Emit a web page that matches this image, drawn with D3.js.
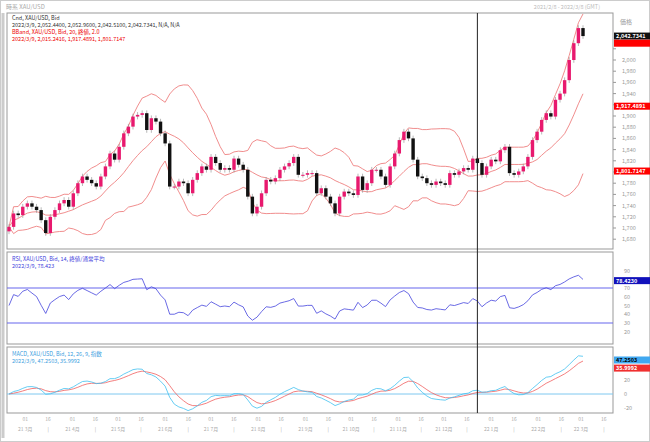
<!DOCTYPE html>
<html><head><meta charset="utf-8">
<script src="https://cdn.jsdelivr.net/npm/d3@7/dist/d3.min.js"></script>
<style>body{margin:0;background:#fff;font-family:"Noto Sans CJK JP","Noto Sans",sans-serif}</style>
</head><body><svg id="c" width="650" height="442"></svg>
<script>
const closes=[1702,1726,1723,1738,1744,1738,1732,1714,1691,1720,1732,1744,1750,1738,1762,1780,1792,1786,1780,1774,1792,1810,1833,1822,1845,1869,1881,1899,1902,1905,1875,1896,1890,1869,1851,1774,1774,1783,1780,1762,1786,1798,1810,1804,1827,1816,1804,1807,1804,1824,1813,1804,1756,1726,1738,1762,1786,1783,1789,1804,1810,1816,1827,1795,1795,
1798,1798,1762,1771,1756,1744,1726,1756,1765,1762,1759,1792,1768,1780,1804,1804,1792,1777,1810,1833,1857,1872,1860,1822,1792,1789,1780,1777,1783,1780,1777,1798,1795,1801,1807,1804,1824,1816,1795,1810,1822,1819,1839,1845,1798,1795,1801,1810,1827,1857,1872,1893,1905,1899,1929,1940,1964,2000,2030,2057,2042.73];
const priceTicks=[2020,2000,1980,1960,1940,1920,1900,1880,1860,1840,1820,1800,1780,1760,1740,1720,1700,1680];
const rsiTicks=[20,30,40,50,60,70,80,90];
const macdTicks=[-20,0,20];
const monthLabels=["21 3月","21 4月","21 5月","21 6月","21 7月","21 8月","21 9月","21 10月","21 11月","21 12月","22 1月","22 2月","22 3月"];
const bandLabels=["2,015.2416","1,917.4891","1,801.7147"];

const svg=d3.select("#c");
const L=7,R=613,CR=583;
const x=d3.scaleLinear().domain([0,closes.length-1]).range([L+2,CR]);
const yP=d3.scaleLinear().domain([2000,1800]).range([60,172]);
const yR=d3.scaleLinear().domain([70,30]).range([288,323]);
const yM=d3.scaleLinear().domain([0,47.25]).range([394,360]);
const panels=[[13,249],[252,344],[347,413]];
svg.append("rect").attr("x",0.5).attr("y",0.5).attr("width",649).attr("height",441).attr("fill","#fff").attr("stroke","#ccc");
svg.append("text").attr("x",6).attr("y",9).attr("font-size",6).attr("fill","#aaa").text("時系 XAU/USD");
svg.append("text").attr("x",600).attr("y",9).attr("font-size",5.5).attr("fill","#bbb").attr("text-anchor","end").text("2021/2/8 - 2022/3/8 (GMT)");
panels.forEach(([a,b])=>svg.append("rect").attr("x",L).attr("y",a).attr("width",R-L).attr("height",b-a).attr("fill","none").attr("stroke","#999"));
svg.append("line").attr("x1",3).attr("x2",3).attr("y1",13).attr("y2",438).attr("stroke","#ccc").attr("stroke-width",3);
const n=closes.length;
const P=13;
const mid=[],up=[],lo=[];
for(let i=0;i<n;i++){const s=closes.slice(Math.max(0,i-P+1),i+1);const m=d3.mean(s),sd=Math.sqrt(d3.mean(s,v=>(v-m)**2));mid.push(m);up.push(m+2*sd);lo.push(m-2*sd);}
function ema(arr,p){const k=2/(p+1);let e=arr[0];return arr.map(v=>e=v*k+e*(1-k));}
const rsi=[];let ag=3,al=3;const rp=14;
for(let i=0;i<n;i++){const d=i?closes[i]-closes[i-1]:0;ag=(ag*(rp-1)+Math.max(d,0))/rp;al=(al*(rp-1)+Math.max(-d,0))/rp;rsi.push(al===0?50:100-100/(1+ag/al));}
const e1=ema(closes,6),e2=ema(closes,13);const macd=closes.map((v,i)=>e1[i]-e2[i]);const sig=ema(macd,5);
const gP=svg.append("g");
svg.append("clipPath").attr("id","cp").append("rect").attr("x",L).attr("y",13).attr("width",R-L).attr("height",236);
const lineP=d3.line().x((d,i)=>x(i)).y(d=>yP(d));
[up,mid,lo].forEach(a=>gP.append("path").attr("d",lineP(a)).attr("fill","none").attr("stroke","#ee8080").attr("stroke-width",0.9).attr("clip-path","url(#cp)"));
closes.forEach((c,i)=>{const o=i?closes[i-1]:c-8;const upc=c>=o;const col=upc?"#e8196e":"#111";
 gP.append("line").attr("x1",x(i)).attr("x2",x(i)).attr("y1",yP(Math.max(o,c)+5)).attr("y2",yP(Math.min(o,c)-5)).attr("stroke","#888").attr("stroke-width",0.6);
 gP.append("rect").attr("x",x(i)-1.7).attr("width",3.4).attr("y",yP(Math.max(o,c))).attr("height",Math.max(1,Math.abs(yP(o)-yP(c)))).attr("fill",col);});
const ax=svg.append("g").attr("font-size",5.5).attr("fill","#999");
const boxYs=[];
function box(yv,txt,bg,fg){boxYs.push(yv);svg.append("rect").attr("x",R+1).attr("y",yv-3.5).attr("width",36).attr("height",7).attr("fill",bg);svg.append("text").attr("x",R+3).attr("y",yv+2).attr("font-size",5.5).attr("fill",fg).attr("font-weight","bold").text(txt);}
box(yP(2042.73),"2,042.7341","#111","#fff");
box(yP(2030),"","#f00","#f00");
box(yP(1917.49),bandLabels[1],"#f00","#fff");
box(yP(1801.71),bandLabels[2],"#f00","#fff");
box(yR(78.42),"78.4230","#1111bb","#fff");
box(yM(47.25),"47.2503","#40a8f0","#000");
box(yM(35.99),"35.9992","#f03030","#fff");
const free=yv=>boxYs.every(b=>Math.abs(b-yv)>6.5);
priceTicks.forEach(t=>{ax.append("line").attr("x1",R).attr("x2",R+3).attr("y1",yP(t)).attr("y2",yP(t)).attr("stroke","#999");if(free(yP(t)))ax.append("text").attr("x",622).attr("y",yP(t)+2).text(d3.format(",")(t));});
svg.append("text").attr("x",620).attr("y",24).attr("font-size",6).attr("fill","#999").text("価格");
const lg=svg.append("g").attr("font-size",5.5);
lg.append("text").attr("x",12).attr("y",20).attr("fill","#333").text("Cnd, XAU/USD, Bid");
lg.append("text").attr("x",12).attr("y",27).attr("fill","#333").text("2022/3/9, 2,052.4400, 2,052.9600, 2,042.5100, 2,042.7341, N/A, N/A");
lg.append("text").attr("x",12).attr("y",34).attr("fill","#e00").text("BBand, XAU/USD, Bid, 20, 終値, 2.0");
lg.append("text").attr("x",12).attr("y",41).attr("fill","#e00").text("2022/3/9, "+bandLabels.join(", "));
svg.append("clipPath").attr("id","cr").append("rect").attr("x",L).attr("y",252).attr("width",R-L).attr("height",92);
[70,30].forEach(v=>svg.append("line").attr("x1",L).attr("x2",R).attr("y1",yR(v)).attr("y2",yR(v)).attr("stroke","#6666ee").attr("stroke-width",1.2));
svg.append("path").attr("d",d3.line().x((d,i)=>x(i)).y(d=>yR(d))(rsi)).attr("fill","none").attr("stroke","#4444dd").attr("stroke-width",0.8).attr("clip-path","url(#cr)");
rsiTicks.forEach(t=>{if(free(yR(t)))ax.append("text").attr("x",624).attr("y",yR(t)+2).text(t);});
svg.append("text").attr("x",12).attr("y",261).attr("font-size",5.5).attr("fill","#4444dd").text("RSI, XAU/USD, Bid, 14, 終値/通常平均");
svg.append("text").attr("x",12).attr("y",268).attr("font-size",5.5).attr("fill","#4444dd").text("2022/3/9, 78.423");
svg.append("clipPath").attr("id","cm").append("rect").attr("x",L).attr("y",347).attr("width",R-L).attr("height",66);
svg.append("line").attr("x1",L).attr("x2",R).attr("y1",yM(0)).attr("y2",yM(0)).attr("stroke","#7fc8f0");
svg.append("path").attr("d",d3.line().x((d,i)=>x(i)).y(d=>yM(d))(sig)).attr("fill","none").attr("stroke","#f06060").attr("stroke-width",0.8).attr("clip-path","url(#cm)");
svg.append("path").attr("d",d3.line().x((d,i)=>x(i)).y(d=>yM(d))(macd)).attr("fill","none").attr("stroke","#40c0f0").attr("stroke-width",0.8).attr("clip-path","url(#cm)");
macdTicks.forEach(t=>{if(free(yM(t)))ax.append("text").attr("x",624).attr("y",yM(t)+2).text(t);});
svg.append("text").attr("x",12).attr("y",356).attr("font-size",5.5).attr("fill","#40a0e0").text("MACD, XAU/USD, Bid, 12, 26, 9, 指数");
svg.append("text").attr("x",12).attr("y",363).attr("font-size",5.5).attr("fill","#40a0e0").text("2022/3/9, 47.2503, 35.9992");
svg.append("line").attr("x1",x(102)).attr("x2",x(102)).attr("y1",13).attr("y2",413).attr("stroke","#222");
const t=d3.scaleTime().domain([new Date(2021,1,17),new Date(2022,2,1)]).range([L,CR-2]);
const tg=svg.append("g").attr("font-size",5).attr("fill","#aaa").attr("text-anchor","middle");
monthLabels.forEach((m,i)=>{const d=new Date(2021,2+i,1);const xx=t(d);tg.append("text").attr("x",xx).attr("y",421).text("01");tg.append("text").attr("x",xx).attr("y",431).text(m);
 const h=t(new Date(2021,2+i,16));if(h<R){tg.append("text").attr("x",h).attr("y",421).text("16");tg.append("text").attr("x",h).attr("y",431).text("|");}});
</script></body></html>
